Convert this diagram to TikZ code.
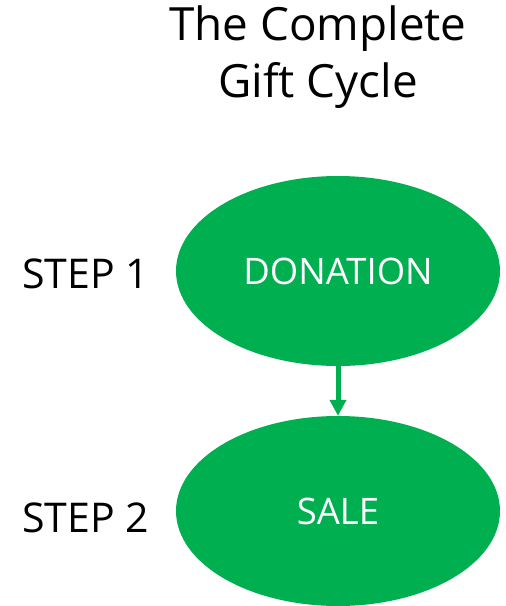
\documentclass[tikz,border=0pt]{standalone}
\usepackage{fontspec}
\setmainfont{Open Sans}
\usetikzlibrary{shapes.geometric,arrows.meta}
\definecolor{giftgreen}{HTML}{00B050}
\tikzset{
	stage/.style={ellipse, fill=giftgreen, draw=none, minimum width=324pt, minimum height=190pt, inner sep=0pt, text=white, font=\fontsize{36.5}{44}\selectfont},
	steplabel/.style={anchor=west, inner sep=0pt, font=\fontsize{41}{49}\selectfont},
}
\begin{document}
\begin{tikzpicture}[x=1pt, y=-1pt]
	\useasboundingbox (0,0) rectangle (506,606);
	%title
	\node[align=center, font=\fontsize{45.8}{57}\selectfont] (title) at (318,57) {The Complete\\Gift Cycle};
	%stages
	\node[stage] (donation) at (338,271) {DONATION};
	\node[stage] (sale) at (338,511) {SALE};
	%step labels
	\node[steplabel] (step one) at (22,274) {STEP 1};
	\node[steplabel] (step two) at (22,518) {STEP 2};
	%arrow
	\draw[giftgreen, line width=5pt, -{Triangle[width=16pt, length=16pt]}] (donation.south) -- (sale.north);
\end{tikzpicture}
\end{document}
